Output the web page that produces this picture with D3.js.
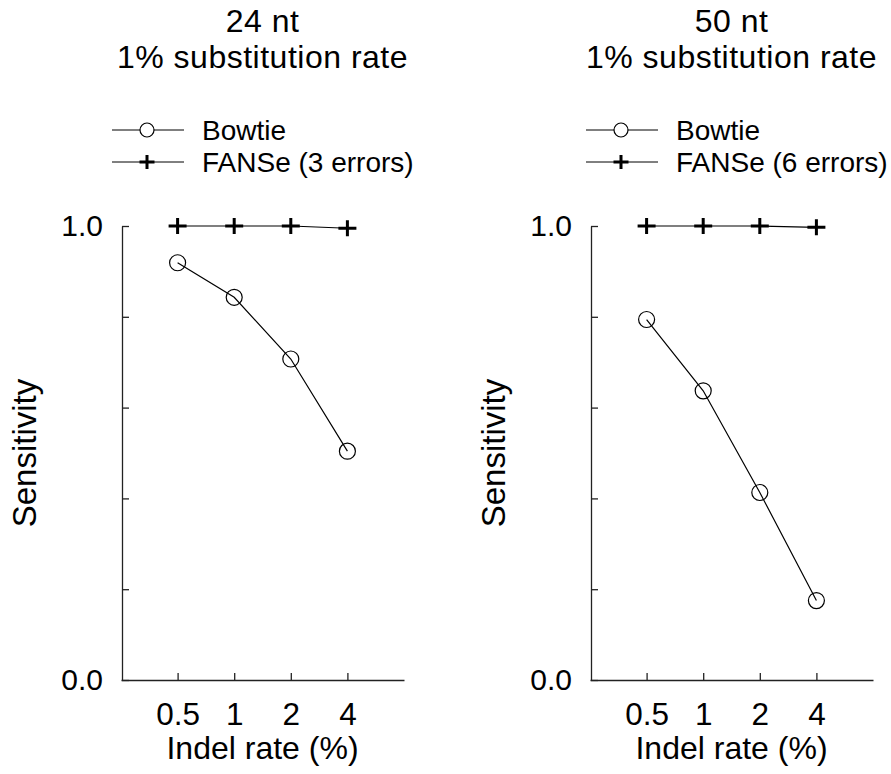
<!DOCTYPE html>
<html>
<head>
<meta charset="utf-8">
<script src="https://cdn.jsdelivr.net/npm/d3@7"></script>
<style>
  body { margin: 0; background: #fff; }
  text { font-family: "Liberation Sans", Arial, sans-serif; fill: #000; }
</style>
</head>
<body>
<div id="chart"></div>
<script>
// data
const indelRates = [0.5, 1, 2, 4];
const indelLabels = ['0.5', '1', '2', '4'];
const yTicks = [0, 0.2, 0.4, 0.6, 0.8, 1.0];

const bowtie24 = [0.919, 0.843, 0.707, 0.504];
const fanse24 = [1.0, 1.0, 1.0, 0.995];
const bowtie50 = [0.794, 0.637, 0.413, 0.175];
const fanse50 = [1.0, 1.0, 1.0, 0.997];

const titles24 = ['24 nt', '1% substitution rate'];
const titles50 = ['50 nt', '1% substitution rate'];
const fanseNames = ['FANSe (3 errors)', 'FANSe (6 errors)'];

const width = 891, height = 774;

let svg = d3.select('#chart').append('svg')
    .attr('width', width)
    .attr('height', height);

const panels = [
  {x0: 121, title: titles24, bowtie: bowtie24, fanse: fanse24, fanseName: fanseNames[0], legX: -9, labelX: 36},
  {x0: 590, title: titles50, bowtie: bowtie50, fanse: fanse50, fanseName: fanseNames[1], legX: -4, labelX: 505}
];

const plotW = 283;
const yTop = 226, yBottom = 680;

const crossPath = 'M-9,0H9M0,-8V8';

panels.forEach(p => drawPanel(p));

function drawPanel(p) {
  let x = d3.scaleLog().base(2).domain([0.25, 8]).range([p.x0, p.x0 + plotW]);
  let y = d3.scaleLinear().domain([0, 1]).range([yBottom, yTop]);

  let g = svg.append('g');

  // two-line title
  p.title.forEach((t, i) => {
    g.append('text')
        .attr('x', p.x0 + plotW / 2)
        .attr('y', 32 + i * 36)
        .attr('text-anchor', 'middle')
        .style('font-size', '32px')
        .style('letter-spacing', '0.5px')
        .text(t);
  });

  // legend
  let legend = [
    {name: 'Bowtie', sym: 'circle', y: 130},
    {name: p.fanseName, sym: 'cross', y: 162}
  ];
  legend.forEach(l => {
    let lx = p.x0 + p.legX;
    g.append('line')
        .attr('x1', lx).attr('x2', lx + 72)
        .attr('y1', l.y).attr('y2', l.y)
        .attr('stroke', '#000').attr('stroke-width', 1);
    if (l.sym === 'circle') {
      g.append('circle')
          .attr('cx', lx + 35).attr('cy', l.y).attr('r', 7)
          .attr('fill', '#fff').attr('stroke', '#000').attr('stroke-width', 1.2);
    } else {
      g.append('path')
          .attr('d', 'M-7.5,0H7.5M0,-7V7')
          .attr('transform', 'translate(' + (lx + 35) + ',' + l.y + ')')
          .attr('stroke', '#000').attr('stroke-width', 3).attr('fill', 'none');
    }
    g.append('text')
        .attr('x', lx + 90)
        .attr('y', l.y + 10)
        .style('font-size', '28px')
        .text(l.name);
  });

  // axes
  let xAxis = d3.axisBottom(x)
      .tickValues(indelRates)
      .tickFormat((d, i) => indelLabels[i])
      .tickSizeInner(-7)
      .tickSizeOuter(0)
      .tickPadding(23);
  let gx = g.append('g')
      .attr('transform', 'translate(0,' + yBottom + ')')
      .call(xAxis);

  let yAxis = d3.axisLeft(y)
      .tickValues(yTicks)
      .tickFormat(d => (d === 0 || d === 1) ? d3.format('.1f')(d) : '')
      .tickSizeInner(-7)
      .tickSizeOuter(0)
      .tickPadding(19);
  let gy = g.append('g')
      .attr('transform', 'translate(' + (p.x0 + 1) + ',0)')
      .call(yAxis);

  [gx, gy].forEach(a => {
    a.attr('font-family', null).attr('font-size', null);
    a.selectAll('path.domain').attr('stroke', '#222').attr('stroke-width', 1.3);
    a.selectAll('.tick line').attr('stroke', '#222').attr('stroke-width', 1.3);
    a.selectAll('.tick text').attr('fill', '#000');
  });
  gx.selectAll('.tick text').style('font-size', '31.5px');
  gy.selectAll('.tick text').style('font-size', '30px');

  // axis titles
  g.append('text')
      .attr('x', p.x0 + plotW / 2)
      .attr('y', 759)
      .attr('text-anchor', 'middle')
      .style('font-size', '32px')
      .text('Indel rate (%)');

  g.append('text')
      .attr('transform', 'translate(' + p.labelX + ',' + ((yTop + yBottom) / 2) + ') rotate(-90)')
      .attr('text-anchor', 'middle')
      .style('font-size', '33px')
      .text('Sensitivity');

  // series
  let line = d3.line()
      .x((d, i) => x(indelRates[i]))
      .y(d => y(d));

  g.append('path')
      .datum(p.fanse)
      .attr('d', line)
      .attr('fill', 'none').attr('stroke', '#000').attr('stroke-width', 1.2);

  g.append('path')
      .datum(p.bowtie)
      .attr('d', line)
      .attr('fill', 'none').attr('stroke', '#000').attr('stroke-width', 1.2);

  g.selectAll('path.cross')
      .data(p.fanse)
      .enter()
      .append('path')
      .attr('class', 'cross')
      .attr('d', crossPath)
      .attr('transform', (d, i) => 'translate(' + x(indelRates[i]) + ',' + y(d) + ')')
      .attr('stroke', '#000').attr('stroke-width', 3).attr('fill', 'none');

  g.selectAll('circle.pt')
      .data(p.bowtie)
      .enter()
      .append('circle')
      .attr('class', 'pt')
      .attr('cx', (d, i) => x(indelRates[i]))
      .attr('cy', d => y(d))
      .attr('r', 8)
      .attr('fill', 'none').attr('stroke', '#000').attr('stroke-width', 1.2);
}
</script>
</body>
</html>
